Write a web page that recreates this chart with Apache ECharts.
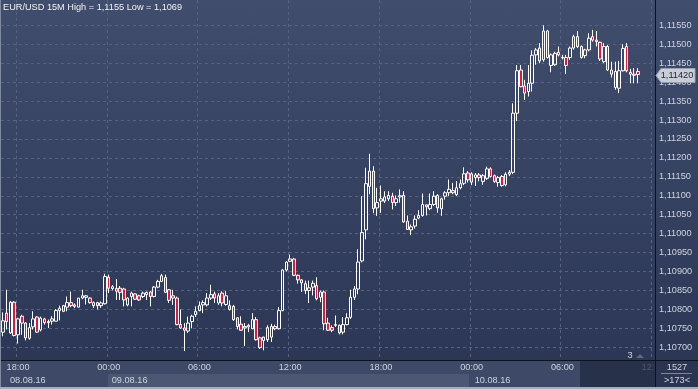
<!DOCTYPE html>
<html><head><meta charset="utf-8">
<script src="https://cdn.jsdelivr.net/npm/echarts@6/dist/echarts.min.js"></script>
<style>
html,body{margin:0;padding:0;background:#2f3a58;}
#c{width:698px;height:389px;background:linear-gradient(to bottom,#414d6c 0%,#2a3554 100%);}
</style>
</head><body><div id="c"></div>
<script>
const titleText = 'EUR/USD 15M High = 1,1155 Low = 1,1069';
const opens = [
1.10740,1.10790,1.10738,1.10819,1.10733,1.10782,1.10764,1.10724,1.10754,1.10780,
1.10746,1.10775,1.10765,1.10769,1.10769,1.10797,1.10795,1.10806,1.10818,1.10812,
1.10806,1.10830,1.10832,1.10830,1.10810,1.10818,1.10810,1.10815,1.10885,1.10855,
1.10855,1.10856,1.10854,1.10812,1.10834,1.10841,1.10836,1.10834,1.10839,1.10846,
1.10834,1.10859,1.10874,1.10884,1.10852,1.10836,1.10830,1.10760,1.10751,1.10743,
1.10768,1.10786,1.10797,1.10812,1.10812,1.10830,1.10841,1.10817,1.10843,1.10813,
1.10810,1.10808,1.10778,1.10761,1.10755,1.10754,1.10749,1.10773,1.10725,1.10718,
1.10720,1.10727,1.10755,1.10749,1.10797,1.10904,1.10927,1.10933,1.10890,1.10878,
1.10868,1.10850,1.10859,1.10863,1.10832,1.10846,1.10764,1.10752,1.10758,1.10758,
1.10740,1.10760,1.10779,1.10832,1.10854,1.10928,1.11010,1.11125,1.11165,1.11068,
1.11086,1.11086,1.11092,1.11099,1.11082,1.11097,1.11101,1.11033,1.11010,1.11020,
1.11041,1.11048,1.11076,1.11066,1.11077,1.11101,1.11066,1.11099,1.11108,1.11114,
1.11103,1.11121,1.11133,1.11160,1.11158,1.11148,1.11155,1.11138,1.11146,1.11171,
1.11153,1.11135,1.11151,1.11129,1.11157,1.11162,1.11318,1.11432,1.11390,1.11375,
1.11397,1.11472,1.11490,1.11459,1.11535,1.11444,1.11446,1.11479,1.11465,1.11465,
1.11465,1.11490,1.11520,1.11494,1.11470,1.11485,1.11520,1.11511,1.11505,1.11454,
1.11494,1.11432,1.11386,1.11384,1.11430,1.11494,1.11426,1.11421,1.11428];
const closes = [
1.10770,1.10768,1.10819,1.10731,1.10775,1.10764,1.10725,1.10752,1.10775,1.10740,
1.10777,1.10765,1.10768,1.10775,1.10797,1.10803,1.10810,1.10818,1.10810,1.10808,
1.10830,1.10836,1.10836,1.10818,1.10818,1.10810,1.10817,1.10887,1.10856,1.10860,
1.10848,1.10845,1.10825,1.10830,1.10843,1.10827,1.10825,1.10843,1.10845,1.10834,
1.10859,1.10874,1.10889,1.10845,1.10824,1.10830,1.10760,1.10751,1.10745,1.10764,
1.10782,1.10795,1.10810,1.10818,1.10830,1.10839,1.10830,1.10836,1.10817,1.10836,
1.10800,1.10773,1.10755,1.10745,1.10751,1.10758,1.10773,1.10720,1.10699,1.10727,
1.10752,1.10755,1.10749,1.10797,1.10904,1.10925,1.10933,1.10890,1.10878,1.10870,
1.10850,1.10857,1.10869,1.10828,1.10846,1.10762,1.10745,1.10745,1.10760,1.10738,
1.10760,1.10778,1.10832,1.10854,1.10925,1.11003,1.11132,1.11165,1.11066,1.11082,
1.11092,1.11097,1.11101,1.11082,1.11092,1.11100,1.11031,1.11011,1.11018,1.11038,
1.11048,1.11077,1.11071,1.11077,1.11099,1.11068,1.11092,1.11108,1.11117,1.11108,
1.11121,1.11132,1.11158,1.11142,1.11136,1.11155,1.11148,1.11153,1.11171,1.11151,
1.11138,1.11148,1.11127,1.11157,1.11162,1.11318,1.11430,1.11388,1.11371,1.11397,
1.11471,1.11485,1.11456,1.11535,1.11465,1.11472,1.11476,1.11472,1.11464,1.11444,
1.11490,1.11520,1.11494,1.11465,1.11485,1.11516,1.11511,1.11507,1.11461,1.11494,
1.11432,1.11421,1.11428,1.11430,1.11489,1.11430,1.11421,1.11418,1.11420];
const lows = [
1.10729,1.10747,1.10735,1.10729,1.10710,1.10733,1.10718,1.10720,1.10747,1.10738,
1.10742,1.10760,1.10751,1.10760,1.10769,1.10771,1.10793,1.10795,1.10806,1.10804,
1.10806,1.10827,1.10813,1.10815,1.10804,1.10800,1.10804,1.10813,1.10843,1.10850,
1.10825,1.10825,1.10808,1.10808,1.10808,1.10825,1.10822,1.10830,1.10825,1.10808,
1.10832,1.10856,1.10872,1.10843,1.10817,1.10812,1.10758,1.10749,1.10690,1.10738,
1.10750,1.10780,1.10795,1.10790,1.10808,1.10825,1.10817,1.10812,1.10808,1.10810,
1.10797,1.10770,1.10747,1.10744,1.10703,1.10740,1.10748,1.10718,1.10696,1.10692,
1.10714,1.10714,1.10745,1.10747,1.10795,1.10900,1.10925,1.10888,1.10868,1.10846,
1.10841,1.10817,1.10837,1.10824,1.10819,1.10745,1.10743,1.10740,1.10754,1.10734,
1.10734,1.10758,1.10775,1.10825,1.10840,1.10924,1.10985,1.11104,1.11054,1.11047,
1.11055,1.11081,1.11086,1.11064,1.11073,1.11082,1.11029,1.11010,1.10996,1.11013,
1.11038,1.11045,1.11048,1.11062,1.11073,1.11055,1.11047,1.11090,1.11099,1.11104,
1.11099,1.11117,1.11128,1.11135,1.11128,1.11126,1.11138,1.11129,1.11142,1.11148,
1.11134,1.11124,1.11124,1.11125,1.11152,1.11157,1.11297,1.11386,1.11353,1.11362,
1.11375,1.11446,1.11450,1.11454,1.11462,1.11426,1.11443,1.11468,1.11460,1.11421,
1.11459,1.11486,1.11490,1.11462,1.11463,1.11481,1.11507,1.11494,1.11456,1.11450,
1.11430,1.11412,1.11380,1.11371,1.11428,1.11426,1.11397,1.11397,1.11397];
const highs = [
1.10792,1.10852,1.10822,1.10822,1.10778,1.10786,1.10766,1.10764,1.10795,1.10782,
1.10781,1.10778,1.10773,1.10782,1.10801,1.10810,1.10812,1.10834,1.10847,1.10816,
1.10830,1.10852,1.10838,1.10832,1.10821,1.10820,1.10821,1.10894,1.10892,1.10864,
1.10880,1.10862,1.10857,1.10832,1.10847,1.10843,1.10839,1.10847,1.10847,1.10849,
1.10862,1.10878,1.10894,1.10892,1.10854,1.10852,1.10834,1.10800,1.10764,1.10781,
1.10786,1.10808,1.10821,1.10824,1.10843,1.10865,1.10847,1.10843,1.10848,1.10848,
1.10824,1.10812,1.10778,1.10782,1.10764,1.10762,1.10790,1.10780,1.10728,1.10728,
1.10758,1.10762,1.10760,1.10806,1.10906,1.10927,1.10945,1.10936,1.10892,1.10880,
1.10876,1.10876,1.10876,1.10885,1.10850,1.10850,1.10778,1.10758,1.10784,1.10760,
1.10780,1.10790,1.10852,1.10862,1.10959,1.11099,1.11174,1.11211,1.11178,1.11121,
1.11127,1.11112,1.11112,1.11108,1.11101,1.11117,1.11112,1.11048,1.11024,1.11048,
1.11062,1.11106,1.11077,1.11106,1.11112,1.11104,1.11095,1.11112,1.11143,1.11134,
1.11139,1.11143,1.11175,1.11165,1.11162,1.11160,1.11160,1.11157,1.11177,1.11175,
1.11156,1.11152,1.11155,1.11162,1.11168,1.11344,1.11445,1.11445,1.11406,1.11445,
1.11484,1.11490,1.11503,1.11550,1.11538,1.11476,1.11480,1.11494,1.11472,1.11472,
1.11494,1.11525,1.11535,1.11497,1.11488,1.11529,1.11538,1.11535,1.11507,1.11503,
1.11498,1.11454,1.11454,1.11456,1.11500,1.11503,1.11435,1.11437,1.11437];
const yTicks = [1.1070,1.1075,1.1080,1.1085,1.1090,1.1095,1.1100,1.1105,1.1110,1.1115,1.1120,1.1125,1.1130,1.1135,1.1140,1.1145,1.1150,1.1155];
const dateLabelIdx = [0, 28, 124];
const totalSlots = 173;

// time categories, 15 minutes apart starting 08.08.16 17:00
const categories = [];
(function(){
  const p = n => (n < 10 ? '0' : '') + n;
  let d = 8, h = 17, m = 0;
  for (let k = 0; k < totalSlots; k++) {
    categories.push(p(d) + '.08.16 ' + p(h) + ':' + p(m));
    m += 15; if (m === 60) { m = 0; h++; if (h === 24) { h = 0; d++; } }
  }
})();

const candles = opens.map((o, i) => [o, closes[i], lows[i], highs[i]]);
const FONT = '"Liberation Sans", Arial, sans-serif';
const FS = 9.2;
const txtCol = '#cdd3df';
const gridCol = '#56627f';
const showTime = (i) => i % 24 === 4;

const chart = echarts.init(document.getElementById('c'), null, {renderer: 'canvas'});
const option = {
  animation: false,
  backgroundColor: 'transparent',
  title: {
    text: titleText, left: 3, top: 3, padding: 0,
    textStyle: {color: '#eef1f6', fontSize: FS, fontWeight: 'normal', fontFamily: FONT}
  },
  grid: {left: 1, right: 43, top: 0, bottom: 29, containLabel: false},
  xAxis: [{
    type: 'category', data: categories, boundaryGap: true,
    axisLine: {show: true, lineStyle: {color: '#0e121c', width: 1}},
    axisTick: {show: false, interval: (i) => showTime(i)},
    splitLine: {show: true, interval: (i) => showTime(i), lineStyle: {color: gridCol, type: [3, 3], width: 1}},
    axisLabel: {
      interval: (i) => showTime(i), margin: 3, color: txtCol, fontSize: FS, fontFamily: FONT,
      formatter: (v, i) => { const t = v.slice(9); return i >= 150 ? '{dim|' + t + '}' : t; },
      rich: {dim: {color: '#4d5873', fontSize: FS, fontFamily: FONT}}
    }
  }, {
    type: 'category', data: categories, boundaryGap: true, position: 'bottom', offset: 13,
    axisLine: {show: false}, axisTick: {show: false}, splitLine: {show: false},
    axisLabel: {
      interval: (i) => dateLabelIdx.indexOf(i) >= 0, margin: 3, align: 'left',
      color: txtCol, fontSize: FS, fontFamily: FONT,
      formatter: (v, i) => i === 0 ? '{a|' + v.slice(0, 8) + '}' : '{b|' + v.slice(0, 8) + '}',
      rich: {
        a: {padding: [0, 0, 0, 7], color: txtCol, fontSize: FS, fontFamily: FONT},
        b: {padding: [0, 0, 0, 3], color: txtCol, fontSize: FS, fontFamily: FONT}
      }
    }
  }],
  yAxis: {
    type: 'value', position: 'right', min: 1.106665, max: 1.116168, scale: true,
    axisLine: {show: true, lineStyle: {color: '#0e121c', width: 1}},
    axisTick: {show: false, customValues: yTicks},
    splitLine: {show: true, lineStyle: {color: gridCol, type: [3, 3], width: 1}},
    axisLabel: {
      customValues: yTicks, margin: 4, align: 'left', color: txtCol, fontSize: FS, fontFamily: FONT,
      formatter: (v) => v.toFixed(5).replace('.', ',')
    }
  },
  series: [{
    type: 'candlestick', data: candles, barWidth: 3,
    itemStyle: {color: 'rgba(0,0,0,0)', color0: '#e3173e', borderColor: '#ffffff', borderColor0: '#ffffff', borderWidth: 1}
  }]
};
chart.setOption(option);

const lastClose = closes[closes.length - 1];
const py = Math.round(chart.convertToPixel({yAxisIndex: 0}, lastClose)) + 0.5;
const tstyle = (t, x, y, extra) => Object.assign({text: t, x: x, y: y, fill: txtCol, font: FS + 'px ' + FONT, align: 'center', verticalAlign: 'middle', textAlign: 'center', textVerticalAlign: 'middle'}, extra || {});
chart.setOption({
  graphic: [
    {type: 'rect', z: -1, silent: true, shape: {x: 0, y: 361, width: 655, height: 26}, style: {fill: '#3d4966'}},
    {type: 'rect', z: -1, silent: true, shape: {x: 108, y: 374, width: 361, height: 13}, style: {fill: '#4b5773'}},
    {type: 'rect', z: -1, silent: true, shape: {x: 580, y: 361, width: 75, height: 26}, style: {fill: '#27314a'}},
    {type: 'rect', z: 50, silent: true, shape: {x: 656, y: 361, width: 42, height: 26}, style: {fill: '#2b3552'}},
    {type: 'rect', z: 50, silent: true, shape: {x: 0, y: 387, width: 698, height: 2}, style: {fill: '#a3adbf'}},
    {type: 'rect', z: 50, silent: true, shape: {x: 0, y: 0, width: 1, height: 387}, style: {fill: '#7f8aa0'}},
    {type: 'line', z: 50, silent: true, shape: {x1: 655.5, y1: 360, x2: 655.5, y2: 387}, style: {stroke: '#0e121c', lineWidth: 1}},
    {type: 'line', z: 50, silent: true, shape: {x1: 655, y1: 360.5, x2: 698, y2: 360.5}, style: {stroke: '#0e121c', lineWidth: 1}},
    {type: 'text', z: 51, silent: true, style: tstyle('1527', 677, 367)},
    {type: 'line', z: 51, silent: true, shape: {x1: 661, y1: 373.5, x2: 692, y2: 373.5}, style: {stroke: '#7d879b', lineWidth: 1}},
    {type: 'text', z: 51, silent: true, style: tstyle('>173<', 677, 380)},
    {type: 'text', z: 5, silent: true, style: tstyle('3', 630, 355)},
    {type: 'polygon', z: 5, silent: true, shape: {points: [[636, 358], [640, 354], [644, 358]]}, style: {fill: '#5c6780'}},
    {type: 'polygon', z: 60, silent: true,
      shape: {points: [[656, py], [661, py - 7], [695, py - 7], [695, py + 7], [661, py + 7]]},
      style: {fill: '#c9cdd5', stroke: '#9aa2b2', lineWidth: 1}},
    {type: 'text', z: 61, silent: true, style: tstyle(lastClose.toFixed(5).replace('.', ','), 677, py, {fill: '#1b2235'})}
  ]
});
</script>
</body></html>
